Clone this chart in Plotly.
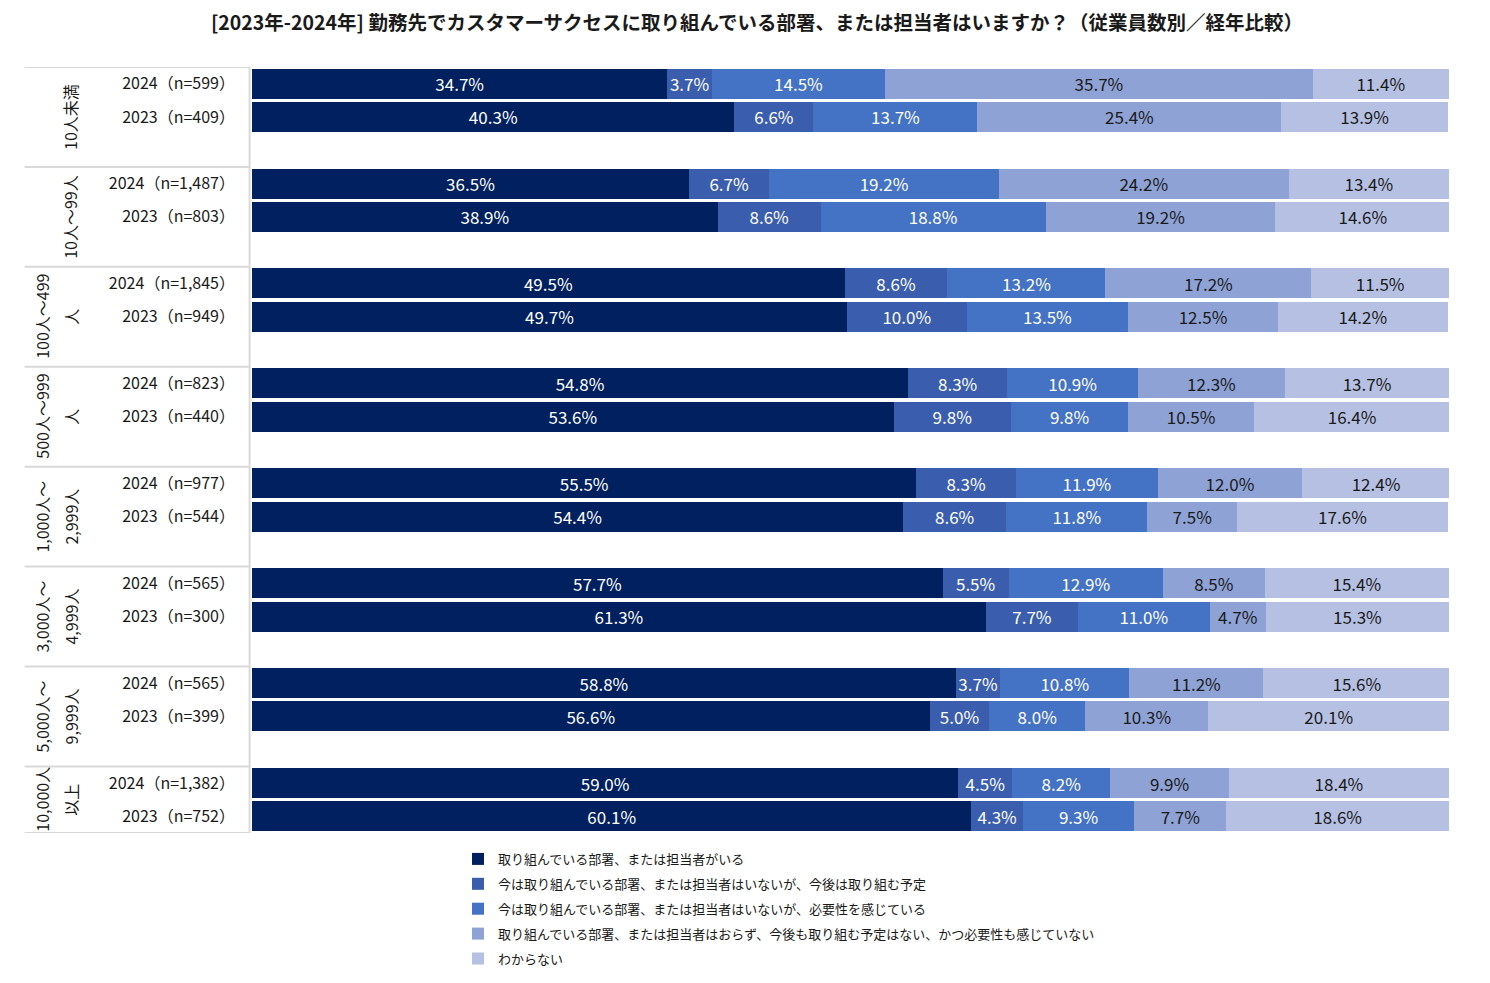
import plotly.graph_objects as go

# ---- data ----
groups_line1 = ["10人未満", "10人～99人", "100人～499", "500人～999", "1,000人～", "3,000人～", "5,000人～", "10,000人"]
groups_line2 = ["", "", "人", "人", "2,999人", "4,999人", "9,999人", "以上"]

row_labels = [
    "2024（n=599）", "2023（n=409）",
    "2024（n=1,487）", "2023（n=803）",
    "2024（n=1,845）", "2023（n=949）",
    "2024（n=823）", "2023（n=440）",
    "2024（n=977）", "2023（n=544）",
    "2024（n=565）", "2023（n=300）",
    "2024（n=565）", "2023（n=399）",
    "2024（n=1,382）", "2023（n=752）",
]

series_names = [
    "取り組んでいる部署、または担当者がいる",
    "今は取り組んでいる部署、または担当者はいないが、今後は取り組む予定",
    "今は取り組んでいる部署、または担当者はいないが、必要性を感じている",
    "取り組んでいる部署、または担当者はおらず、今後も取り組む予定はない、かつ必要性も感じていない",
    "わからない",
]

s1 = [34.7, 40.3, 36.5, 38.9, 49.5, 49.7, 54.8, 53.6, 55.5, 54.4, 57.7, 61.3, 58.8, 56.6, 59.0, 60.1]
s2 = [3.7, 6.6, 6.7, 8.6, 8.6, 10.0, 8.3, 9.8, 8.3, 8.6, 5.5, 7.7, 3.7, 5.0, 4.5, 4.3]
s3 = [14.5, 13.7, 19.2, 18.8, 13.2, 13.5, 10.9, 9.8, 11.9, 11.8, 12.9, 11.0, 10.8, 8.0, 8.2, 9.3]
s4 = [35.7, 25.4, 24.2, 19.2, 17.2, 12.5, 12.3, 10.5, 12.0, 7.5, 8.5, 4.7, 11.2, 10.3, 9.9, 7.7]
s5 = [11.4, 13.9, 13.4, 14.6, 11.5, 14.2, 13.7, 16.4, 12.4, 17.6, 15.4, 15.3, 15.6, 20.1, 18.4, 18.6]
series_values = [s1, s2, s3, s4, s5]

colors = ["#002060", "#3A5DAE", "#4472C4", "#8EA2D6", "#B6C0E3"]
text_colors = ["#FFFFFF", "#FFFFFF", "#FFFFFF", "#1A1A1A", "#1A1A1A"]

FONT = "Noto Sans CJK JP"

# slot positions: each group uses 3 slots (2024, 2023, gap); last group has no gap
ypos = []
for g in range(len(groups_line1)):
    ypos += [3 * g, 3 * g + 1]
n_slots = 3 * (len(groups_line1) - 1) + 2

fig = go.Figure()
for i, (name, vals) in enumerate(zip(series_names, series_values)):
    fig.add_trace(go.Bar(
        y=ypos, x=vals, orientation="h", name=name,
        marker=dict(color=colors[i], line=dict(width=0)),
        width=0.9,
        text=[f"{v:.1f}%" for v in vals],
        textposition="inside", insidetextanchor="middle",
        textfont=dict(color=text_colors[i], size=17, family=FONT),
        legendgroup=f"g{i}",
        hoverinfo="skip",
    ))

shapes = []
bounds = [3 * g - 0.5 for g in range(len(groups_line1))] + [n_slots - 0.5]
for b in bounds:
    shapes.append(dict(type="line", xref="paper", yref="y", x0=-0.19, x1=-0.002, y0=b, y1=b,
                       line=dict(color="#D9D9D9", width=2)))
shapes.append(dict(type="line", xref="paper", yref="y", x0=-0.002, x1=-0.002, y0=-0.5, y1=n_slots - 0.5,
                   line=dict(color="#D9D9D9", width=2)))

annotations = []
L = 252
W = 1197
def px(xp):
    return (xp - L) / W

for g, (a, b) in enumerate(zip(groups_line1, groups_line2)):
    yc = 3 * g + 1 if g < len(groups_line1) - 1 else 3 * g + 0.5
    lines = [(a, 70)] if b == "" else [(a, 42), (b, 71)]
    for txt, xx in lines:
        annotations.append(dict(x=px(xx), y=yc, xref="paper", yref="y", text=txt, textangle=-90,
                                showarrow=False, xanchor="center", yanchor="middle",
                                font=dict(size=16, family=FONT, color="#1A1A1A")))

fig.update_layout(
    width=1482, height=975,
    barmode="stack",
    paper_bgcolor="white", plot_bgcolor="white",
    margin=dict(l=244, r=41, t=59, b=150, autoexpand=False),
    title=dict(text="<b>[2023年-2024年] 勤務先でカスタマーサクセスに取り組んでいる部署、または担当者はいますか？（従業員数別／経年比較）</b>",
               x=0.5054, xanchor="center", y=0.984, yanchor="middle",
               font=dict(size=19.5, family=FONT, color="#1A1A1A")),
    xaxis=dict(range=[0, 100], visible=False, fixedrange=True),
    yaxis=dict(range=[n_slots - 0.5, -0.5], tickvals=ypos, ticktext=row_labels,
               showgrid=False, zeroline=False, showline=False, ticks="",
               ticklabelstandoff=16,
               tickfont=dict(size=16, family=FONT, color="#1A1A1A"), fixedrange=True),
    showlegend=True,
    legend=dict(x=px(458), xanchor="left", y=-0.0143, yanchor="top", orientation="v",
                traceorder="grouped", tracegroupgap=5,
                font=dict(size=13, family=FONT, color="#1A1A1A"),
                itemclick=False, itemdoubleclick=False),
    uniformtext=dict(minsize=17, mode="show"),
    shapes=shapes,
    annotations=annotations,
    font=dict(family=FONT),
)

fig.write_html("out.html", config={"displayModeBar": False})
